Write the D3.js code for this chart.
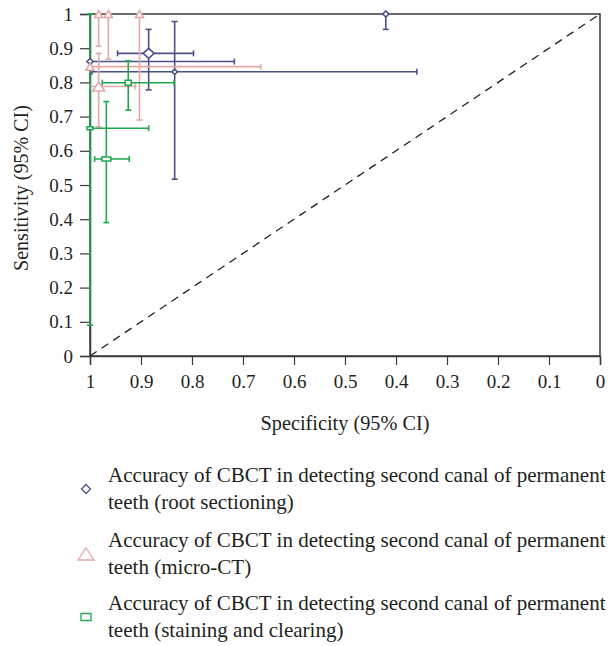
<!DOCTYPE html>
<html><head><meta charset="utf-8">
<script src="https://cdn.jsdelivr.net/npm/d3@7"></script>
<style>body{margin:0;background:#fff}svg{display:block}text{font-family:"Liberation Serif","DejaVu Serif",serif;fill:#231f20}</style>
</head><body><svg id="c" width="610" height="646"></svg>
<script>
// ---- data ----
const seriesNames = [
  ["Accuracy of CBCT in detecting second canal of permanent", "teeth (root sectioning)"],
  ["Accuracy of CBCT in detecting second canal of permanent", "teeth (micro-CT)"],
  ["Accuracy of CBCT in detecting second canal of permanent", "teeth (staining and clearing)"]
];
const seriesColors = ["#4b5188", "#e3a9a9", "#1fa84f"];
const seriesShapes = ["diamond", "triangle", "square"];
// studies: series index, specificity, spec CI, sensitivity, sens CI, marker size
const studySeries = [0, 0, 0, 0, 1, 1, 1, 1, 1, 2, 2, 2];
const specificity = [0.42, 0.885, 1.0, 0.834, 0.983, 0.964, 0.903, 1.0, 0.983, 0.925, 1.0, 0.968];
const specLow     = [null, 0.797, 0.717, 0.359, null, null, null, 0.665, 0.911, 0.835, 0.885, 0.923];
const specHigh    = [null, 0.946, 1.0, 0.996, null, null, null, 1.0, 1.0, 0.976, 1.0, 0.991];
const sensitivity = [1.0, 0.885, 0.861, 0.831, 1.0, 1.0, 1.0, 0.846, 0.788, 0.799, 0.666, 0.576];
const sensLow     = [0.955, 0.778, null, 0.517, 0.906, 0.868, 0.69, null, 0.67, 0.719, 0.09, 0.39];
const sensHigh    = [1.0, 0.955, null, 0.978, 1.0, 1.0, 1.0, null, 0.885, 0.863, 1.0, 0.744];
const markerW     = [6, 11, 6, 6, 8, 8, 8, 8, 12, 6, 6, 9];
const markerH     = [6, 10, 6, 5, 7, 7, 7, 7, 9, 5, 3, 4];
const xTicks = [1, 0.9, 0.8, 0.7, 0.6, 0.5, 0.4, 0.3, 0.2, 0.1, 0];
const yTicks = [0, 0.1, 0.2, 0.3, 0.4, 0.5, 0.6, 0.7, 0.8, 0.9, 1];
const xTitle = "Specificity (95% CI)";
const yTitle = "Sensitivity (95% CI)";

// ---- drawing ----
const FONT = '"Liberation Serif","DejaVu Serif",serif';
const svg = d3.select("#c");
const x = d3.scaleLinear().domain([1, 0]).range([90, 600]);
const y = d3.scaleLinear().domain([0, 1]).range([356, 14]);

function fitText(sel, target, base) {
  sel.style("font-size", base + "px");
  const w = sel.node().getComputedTextLength();
  sel.style("font-size", (base * target / w) + "px");
}

// frame
svg.append("rect").attr("x", x(1)).attr("y", y(1)).attr("width", x(0) - x(1)).attr("height", y(0) - y(1))
  .attr("fill", "none").attr("stroke", "#3a3a3a").attr("stroke-width", 1.5);

// diagonal
svg.append("line").attr("x1", x(1)).attr("y1", y(0)).attr("x2", x(0)).attr("y2", y(1))
  .attr("stroke", "#231f20").attr("stroke-width", 1.3).attr("stroke-dasharray", "8,6");

// axes
const xAxis = svg.append("g").attr("transform", `translate(0,${y(0)})`)
  .call(d3.axisBottom(x).tickValues(xTicks).tickFormat(d3.format("")).tickSize(9).tickPadding(10));
const yAxis = svg.append("g").attr("transform", `translate(${x(1)},0)`)
  .call(d3.axisLeft(y).tickValues(yTicks).tickFormat(d3.format("")).tickSize(10).tickPadding(7));
[xAxis, yAxis].forEach(a => {
  a.attr("font-family", FONT).attr("font-size", 19);
  a.select(".domain").attr("stroke", "#3a3a3a").attr("stroke-width", 1.5);
  a.selectAll(".tick line").attr("stroke", "#3a3a3a").attr("stroke-width", 1.2);
  a.selectAll(".tick text").attr("fill", "#231f20").attr("font-family", FONT).attr("font-size", 19);
});

const xt = svg.append("text").attr("x", 345).attr("y", 430).attr("text-anchor", "middle").text(xTitle);
fitText(xt, 169, 17);
const yt = svg.append("text").attr("transform", "translate(28,188) rotate(-90)").attr("text-anchor", "middle").text(yTitle);
fitText(yt, 166, 17);

// markers
function shapePath(shape, w, h) {
  if (shape === "diamond") return `M0,${-h/2}L${w/2},0L0,${h/2}L${-w/2},0Z`;
  if (shape === "triangle") return `M0,${-h/2}L${w/2},${h/2}L${-w/2},${h/2}Z`;
  return `M${-w/2},${-h/2}H${w/2}V${h/2}H${-w/2}Z`;
}
const idx = d3.range(specificity.length);
const cap = 3;
const g = svg.append("g");
idx.forEach(i => {
  const c = seriesColors[studySeries[i]];
  const gg = g.append("g").attr("stroke", c).attr("stroke-width", 1.6).attr("fill", "none");
  if (specLow[i] !== null) {
    gg.append("line").attr("x1", x(specLow[i])).attr("x2", x(specHigh[i])).attr("y1", y(sensitivity[i])).attr("y2", y(sensitivity[i]));
    [specLow[i], specHigh[i]].forEach(v => gg.append("line").attr("x1", x(v)).attr("x2", x(v))
      .attr("y1", y(sensitivity[i]) - cap).attr("y2", y(sensitivity[i]) + cap));
  }
  if (sensLow[i] !== null) {
    gg.append("line").attr("y1", y(sensLow[i])).attr("y2", y(sensHigh[i])).attr("x1", x(specificity[i])).attr("x2", x(specificity[i]));
    [sensLow[i], sensHigh[i]].forEach(v => gg.append("line").attr("y1", y(v)).attr("y2", y(v))
      .attr("x1", x(specificity[i]) - cap).attr("x2", x(specificity[i]) + cap));
  }
});
idx.forEach(i => {
  const s = studySeries[i];
  g.append("path").attr("d", shapePath(seriesShapes[s], markerW[i], markerH[i]))
    .attr("transform", `translate(${x(specificity[i])},${y(sensitivity[i])})`)
    .attr("fill", "#fff").attr("stroke", seriesColors[s]).attr("stroke-width", 1.6);
});

// legend
const legCenter = [489, 554, 617];
const legMarkW = [9, 16, 10];
const legMarkH = [9, 12, 7];
const legSize = (() => { const t = svg.append("text").text(seriesNames[0][0]).style("font-size", "17px");
  const w = t.node().getComputedTextLength(); t.remove(); return 17 * 498 / w; })();
seriesNames.forEach((lines, s) => {
  svg.append("path").attr("d", shapePath(seriesShapes[s], legMarkW[s], legMarkH[s]))
    .attr("transform", `translate(86,${legCenter[s]})`)
    .attr("fill", "#fff").attr("stroke", seriesColors[s]).attr("stroke-width", 1.3);
  lines.forEach((t, k) => {
    svg.append("text").attr("x", 108).attr("y", legCenter[s] - 7.5 + k * 27).text(t).style("font-size", legSize + "px");
  });
});
</script></body></html>
